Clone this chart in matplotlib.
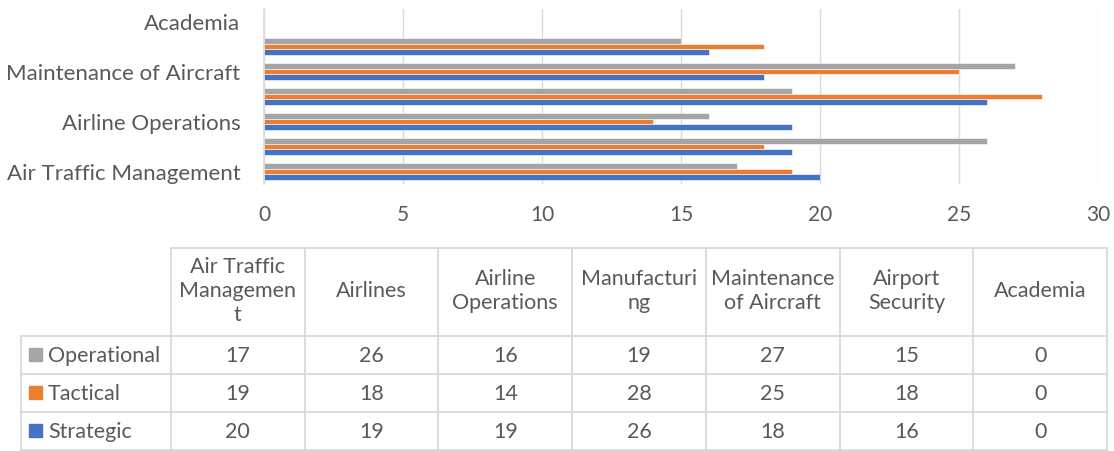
import matplotlib
matplotlib.use("Agg")
import matplotlib.pyplot as plt
import numpy as np

plt.rcParams['font.family'] = ['Lato', 'DejaVu Sans']

# ---------------- data ----------------
categories = ["Air Traffic Management", "Airlines", "Airline Operations",
              "Manufacturing", "Maintenance of Aircraft", "Airport Security",
              "Academia"]
header_labels = ["Air Traffic\nManagemen\nt", "Airlines", "Airline\nOperations",
                 "Manufacturi\nng", "Maintenance\nof Aircraft", "Airport\nSecurity",
                 "Academia"]
series_names = ["Operational", "Tactical", "Strategic"]
operational = [17, 26, 16, 19, 27, 15, 0]
tactical = [19, 18, 14, 28, 25, 18, 0]
strategic = [20, 19, 19, 26, 18, 16, 0]
x_ticks = [0, 5, 10, 15, 20, 25, 30]

colors = {"Operational": "#A5A5A5", "Tactical": "#ED7D31", "Strategic": "#4472C4"}
series_values = {"Operational": operational, "Tactical": tactical, "Strategic": strategic}

W, H = 1114, 451
fig = plt.figure(figsize=(W / 100, H / 100), dpi=100)

text_col = "#595959"
grid_col = "#D9D9D9"

# ---------------- bar chart ----------------
ax_l, ax_r, ax_t, ax_b = 264, 1098, 9, 184
ax = fig.add_axes([ax_l / W, 1 - ax_b / H, (ax_r - ax_l) / W, (ax_b - ax_t) / H])
y = np.arange(len(categories))
bh = 0.227
offsets = {"Strategic": -bh, "Tactical": 0.0, "Operational": bh}
for name in ["Strategic", "Tactical", "Operational"]:
    ax.barh(y + offsets[name], series_values[name], height=bh,
            color=colors[name], edgecolor="white", linewidth=0.4, zorder=3)
ax.set_xlim(0, 30)
ax.set_ylim(-0.5, len(categories) - 0.5)
ax.set_xticks(x_ticks)
ax.set_xticklabels([str(t) for t in x_ticks], fontsize=15, color=text_col)
ax.set_yticks(y[::2])
ax.set_yticklabels([categories[i] for i in y[::2]], fontsize=16, color=text_col)
ax.tick_params(axis="both", length=0)
ax.tick_params(axis="x", pad=15)
ax.tick_params(axis="y", pad=17)
ax.grid(axis="x", color=grid_col, linewidth=1, zorder=0)
for s in ["top", "right", "bottom"]:
    ax.spines[s].set_visible(False)
ax.spines["left"].set_color(grid_col)
ax.spines["left"].set_linewidth(1.2)
ax.spines["left"].set_zorder(4)

# ---------------- data table ----------------
tax = fig.add_axes([0, 0, 1, 1])
tax.set_xlim(0, W)
tax.set_ylim(H, 0)
tax.axis("off")

rh_left, rh_right = 21, 171
tab_right = 1107
ncol = len(categories)
col_edges = np.linspace(rh_right, tab_right, ncol + 1)
head_top, head_bot = 248, 336
row_edges = [336, 374, 412, 450]
lc = "#D9D9D9"
lw = 1.3

# header row borders (no border on top-left blank cell)
tax.plot([rh_right, tab_right], [head_top, head_top], color=lc, lw=lw)
for xe in col_edges:
    tax.plot([xe, xe], [head_top, row_edges[-1]], color=lc, lw=lw)
for ye in row_edges:
    tax.plot([rh_left, tab_right], [ye, ye], color=lc, lw=lw)
tax.plot([rh_left, rh_left], [row_edges[0], row_edges[-1]], color=lc, lw=lw)

fs_tab = 15.5
tc = "#595959"
for j, lab in enumerate(header_labels):
    cx = (col_edges[j] + col_edges[j + 1]) / 2
    tax.text(cx, (head_top + head_bot) / 2 - 1, lab, ha="center", va="center",
             fontsize=fs_tab, color=tc, linespacing=1.22)

for i, name in enumerate(series_names):
    cy = (row_edges[i] + row_edges[i + 1]) / 2
    tax.add_patch(plt.Rectangle((29, cy - 7), 13, 13, color=colors[name]))
    tax.text(48, cy + 1, name, ha="left", va="center", fontsize=fs_tab, color=tc)
    for j, v in enumerate(series_values[name]):
        cx = (col_edges[j] + col_edges[j + 1]) / 2
        tax.text(cx, cy + 1, str(v), ha="center", va="center", fontsize=fs_tab, color=tc)

fig.savefig("out.png", dpi=100)
